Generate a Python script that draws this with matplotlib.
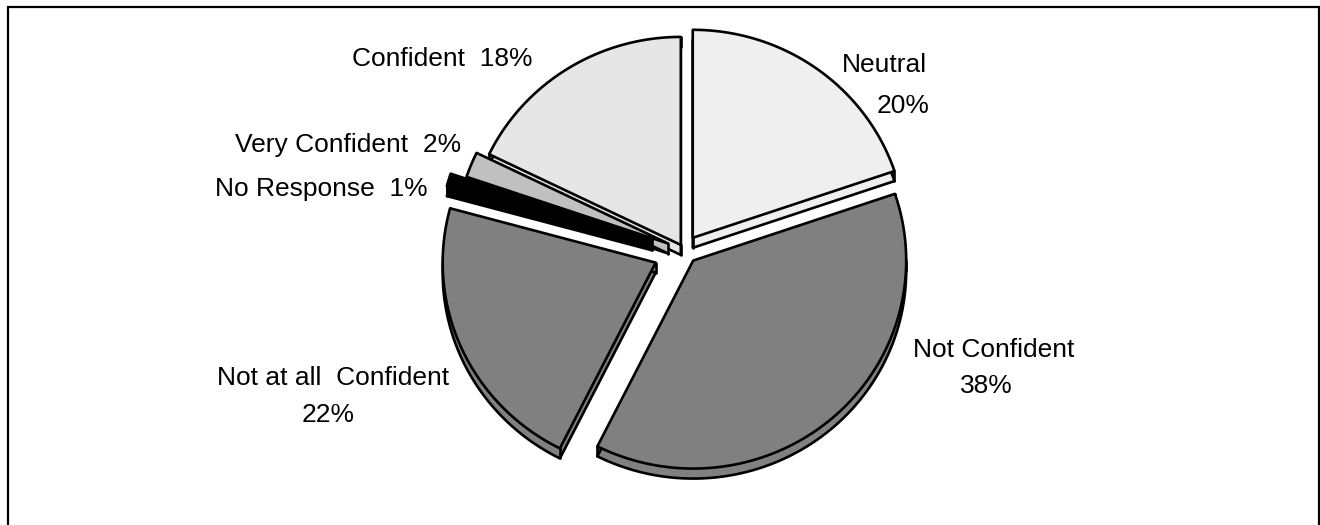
import numpy as np
import matplotlib
matplotlib.use("Agg")
import matplotlib.pyplot as plt
from matplotlib.patches import Polygon

plt.rcParams['font.family'] = ['Liberation Sans', 'DejaVu Sans']

# Survey answers, in clockwise order starting at 12 o'clock
categories = ["Neutral", "Not Confident", "Not at all  Confident",
              "No Response", "Very Confident", "Confident"]
percents = [20, 38, 22, 1, 2, 18]
colors = ["#EFEFEF", "#808080", "#808080", "#000000", "#C0C0C0", "#E6E6E6"]

# How far each slice is pulled out from the centre (pixels)
explode_px = [15, 14, 31, 33, 17, 6]

# Label placement: (x, baseline y, horizontal alignment), one per line
label_lines = {
    "Neutral": [(927, 72, "right"), (930, 113, "right")],
    "Not Confident": [(994, 357, "center"), (986, 393, "center")],
    "Not at all  Confident": [(333, 385, "center"), (328, 422, "center")],
    "No Response": [(428, 196, "right")],
    "Very Confident": [(461, 152, "right")],
    "Confident": [(533, 66, "right")],
}

W, H = 1320, 525
fig = plt.figure(figsize=(W / 100, H / 100), dpi=100)
ax = fig.add_axes([0, 0, 1, 1])
ax.set_xlim(0, W)
ax.set_ylim(H, 0)
ax.axis("off")

cx, cy = 684.0, 250.0
rx, ry = 213.0, 208.0
depth = 10.0
lw = 1.9

total = float(sum(percents))
bounds = 90.0 - np.concatenate([[0.0], np.cumsum(percents)]) / total * 360.0


def slice_outline(a_start, a_end, ox, oy):
    """Apex followed by arc points (pixel coordinates, y downward)."""
    n = max(4, int(abs(a_start - a_end) * 2))
    th = np.radians(np.linspace(a_start, a_end, n))
    xs = cx + ox + rx * np.cos(th)
    ys = cy + oy - ry * np.sin(th)
    return np.column_stack([np.r_[cx + ox, xs], np.r_[cy + oy, ys]])


slices = []
for i in range(len(percents)):
    a1, a2 = bounds[i], bounds[i + 1]
    mid = np.radians((a1 + a2) / 2)
    ox = explode_px[i] * np.cos(mid)
    oy = -explode_px[i] * np.sin(mid)
    slices.append((np.sin(mid), i, a1, a2, ox, oy))

# draw from the back of the pie towards the front
z = 1.0
for _, i, a1, a2, ox, oy in sorted(slices, key=lambda s: -s[0]):
    col = colors[i]
    top = slice_outline(a1, a2, ox, oy)
    bot = top + np.array([0, depth])
    n = len(top)
    # side walls
    for k in range(n):
        p, q = top[k], top[(k + 1) % n]
        quad = np.array([p, q, q + [0, depth], p + [0, depth]])
        ax.add_patch(Polygon(quad, closed=True, facecolor=col,
                             edgecolor=col, lw=0.6, zorder=z))
    # lower outline
    ax.add_patch(Polygon(bot, closed=True, facecolor="none",
                         edgecolor="black", lw=lw, zorder=z + 0.1,
                         joinstyle="round"))
    # vertical edges at the corners and at the silhouette extremes
    corners = [top[0], top[1], top[-1]]
    for ang in (0.0, 180.0, -180.0):
        if min(a1, a2) < ang < max(a1, a2):
            t = np.radians(ang)
            corners.append(np.array([cx + ox + rx * np.cos(t),
                                     cy + oy - ry * np.sin(t)]))
    for c in corners:
        ax.plot([c[0], c[0]], [c[1], c[1] + depth], color="black",
                lw=lw, zorder=z + 0.2, solid_capstyle="round")
    # upper face
    ax.add_patch(Polygon(top, closed=True, facecolor=col,
                         edgecolor="black", lw=lw, zorder=z + 0.3,
                         joinstyle="round"))
    z += 1.0

# labels
for name, pct in zip(categories, percents):
    lines = label_lines[name]
    texts = [f"{name}  {pct}%"] if len(lines) == 1 else [name, f"{pct}%"]
    for (x, y, ha), s in zip(lines, texts):
        ax.text(x, y, s, ha=ha, va="baseline", fontsize=19,
                color="black", zorder=20)

# frame around the chart area
ax.plot([8, 8, 1318.5, 1318.5], [H + 10, 7, 7, H + 10],
        color="black", lw=1.6, solid_joinstyle="miter", zorder=21,
        clip_on=False)

fig.savefig("out.png", dpi=100)
